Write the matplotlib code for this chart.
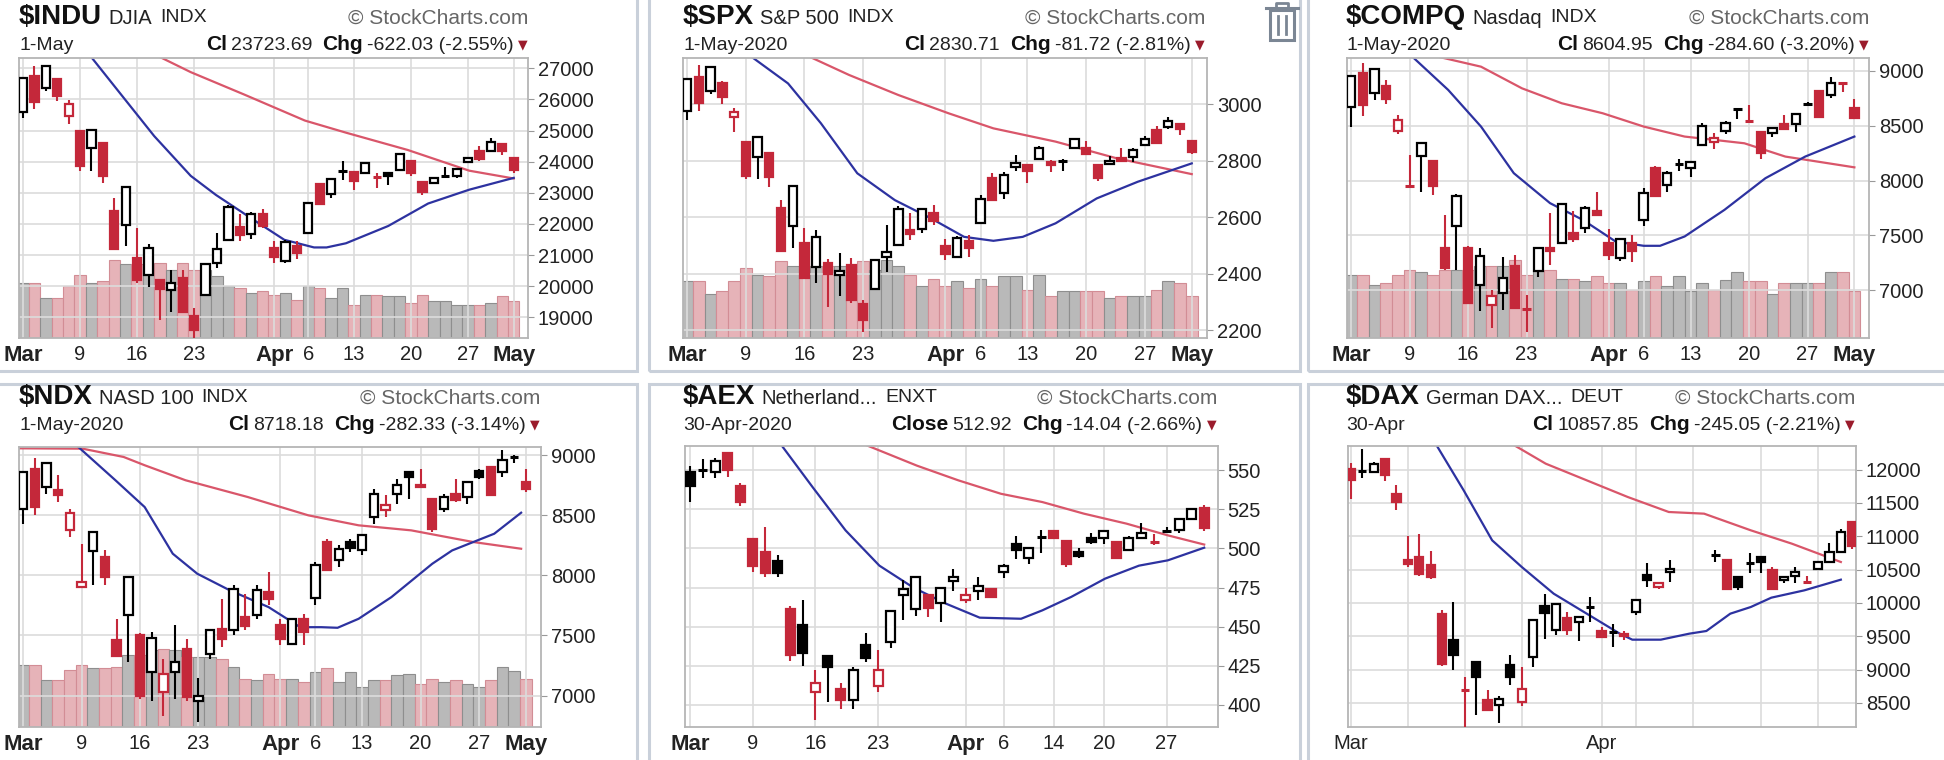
import matplotlib
matplotlib.use("Agg")
import matplotlib.pyplot as plt
import matplotlib.font_manager as fm
from matplotlib.patches import Rectangle
from matplotlib.lines import Line2D

_names = {f.name for f in fm.fontManager.ttflist}
NARROW = 'Liberation Sans Narrow' if 'Liberation Sans Narrow' in _names else 'Liberation Sans'
plt.rcParams['font.family'] = [NARROW, 'DejaVu Sans']

# ---------------- calendar ----------------
us_days = ['Mar 2','Mar 3','Mar 4','Mar 5','Mar 6','Mar 9','Mar 10','Mar 11','Mar 12','Mar 13',
           'Mar 16','Mar 17','Mar 18','Mar 19','Mar 20','Mar 23','Mar 24','Mar 25','Mar 26','Mar 27',
           'Mar 30','Mar 31','Apr 1','Apr 2','Apr 3','Apr 6','Apr 7','Apr 8','Apr 9',
           'Apr 13','Apr 14','Apr 15','Apr 16','Apr 17','Apr 20','Apr 21','Apr 22','Apr 23','Apr 24',
           'Apr 27','Apr 28','Apr 29','Apr 30','May 1']
dax_days = ['Mar 2','Mar 3','Mar 4','Mar 5','Mar 6','Mar 9','Mar 10','Mar 11','Mar 12','Mar 13',
            'Mar 16','Mar 17','Mar 18','Mar 19','Mar 20','Mar 23','Mar 24','Mar 25','Mar 26','Mar 27',
            'Mar 30','Mar 31','Apr 1','Apr 2','Apr 3','Apr 6','Apr 7','Apr 8','Apr 9',
            'Apr 14','Apr 15','Apr 16','Apr 17','Apr 20','Apr 21','Apr 22','Apr 23','Apr 24',
            'Apr 27','Apr 28','Apr 29','Apr 30']
dax_cal = us_days[:29] + ['Apr 10', 'Apr 13'] + us_days[29:]

# ---------------- $INDU ----------------
indu_open  = [25591,26762,26383,26671,25457,24992,24454,24604,22400,21973,20917,20343,20188,19868,20254,19029,19723,20729,21469,21899,21678,22312,21227,20819,21285,21694,23291,22957,23685,23664,23635,23515,23631,23723,24008,23343,23316,23541,23556,23983,24339,24334,24577,24120]
indu_high  = [26706,27084,27102,26671,25994,24992,25020,24604,22838,23186,21871,21350,20191,20533,20532,19300,20710,21712,22596,22327,22378,22480,21441,21477,21447,22697,23329,23458,24008,23664,23949,23651,23631,24264,24008,23343,23496,23822,23781,24164,24497,24764,24577,24120]
indu_low   = [25391,25706,26286,25943,25226,23706,23690,23328,21154,21286,20102,19974,18917,19177,19122,18214,19723,20578,21469,21450,21522,21875,20735,20736,20863,21694,22607,22829,23400,23100,23635,23156,23241,23723,23532,22941,23297,23487,23473,23983,24030,24334,24200,23647]
indu_close = [26703,25917,27091,26121,25865,23851,25018,23553,21200,23185,20189,21237,19899,20087,19174,18592,20704,21200,22552,21637,22327,21917,20943,21413,21053,22680,22654,23434,23719,23390,23950,23505,23538,24242,23650,23019,23475,23516,23775,24134,24102,24634,24346,23724]
indu_vol   = [165,165,120,120,155,190,165,170,235,222,222,205,225,205,225,205,205,185,155,150,135,140,130,135,115,155,150,120,150,100,130,130,125,125,105,130,110,110,100,100,100,105,125,110]
indu_ma20_at = [5.9,8.6,11.5,14.7,16.9,20.1,22.9,25.5,26.6,28.3,32,35.5,39.1,43]
indu_ma20    = [27400,26156,24822,23544,22933,22156,21489,21244,21244,21378,21933,22656,23100,23480]
indu_ma50_at = [11.8,14.7,19.4,24.7,28.3,33.7,39.1,43]
indu_ma50    = [27400,26878,26156,25322,24933,24378,23711,23460]

# ---------------- $SPX ----------------
spx_open  = [2974,3096,3045,3075,2954,2864,2813,2826,2631,2569,2509,2425,2436,2394,2432,2291,2345,2458,2501,2555,2558,2614,2499,2458,2514,2579,2738,2685,2776,2783,2805,2796,2800,2843,2846,2784,2787,2810,2813,2855,2909,2918,2930,2869]
spx_high  = [3090,3137,3130,3083,2985,2864,2883,2826,2660,2711,2563,2553,2453,2473,2454,2307,2450,2572,2638,2615,2631,2641,2522,2533,2538,2677,2757,2760,2819,2783,2852,2801,2806,2880,2868,2785,2816,2844,2843,2888,2921,2955,2930,2869]
spx_low   = [2945,2977,3034,2999,2901,2734,2734,2707,2478,2492,2381,2367,2281,2319,2295,2192,2345,2407,2500,2520,2545,2571,2448,2455,2459,2575,2657,2664,2762,2721,2805,2761,2764,2843,2820,2727,2785,2797,2795,2852,2860,2912,2892,2822]
spx_close = [3090,3003,3130,3024,2972,2747,2882,2741,2481,2711,2386,2529,2398,2409,2305,2237,2447,2476,2630,2541,2627,2585,2471,2527,2489,2664,2659,2750,2790,2762,2846,2783,2800,2875,2823,2737,2799,2798,2837,2878,2863,2939,2912,2831]
spx_vol   = [170,170,133,140,170,210,190,185,230,215,215,215,215,215,220,230,205,235,215,190,155,177,155,170,150,177,155,185,185,143,190,125,140,140,140,140,120,127,127,127,145,170,165,127]
spx_ma20_at = [5.4,8.6,11.4,14.5,17.7,20.8,23.6,26.1,28.6,31.4,34.9,38.4,43]
spx_ma20    = [3170,3073,2932,2755,2660,2595,2530,2516,2530,2578,2666,2725,2790]
spx_ma50_at = [10.3,13.8,18,22.3,26.1,31.4,36.6,43]
spx_ma50    = [3170,3103,3032,2967,2914,2867,2808,2752]

# ---------------- $COMPQ ----------------
compq_open  = [8667,8980,8800,8860,8450,7950,8225,8174,7385,7582,7385,7052,6870,6976,7218,6835,7173,7385,7430,7521,7567,7727,7430,7294,7430,7642,8112,7961,8150,8112,8324,8355,8455,8660,8540,8445,8430,8515,8515,8700,8818,8779,8887,8658]
compq_high  = [8952,9071,9019,8915,8600,8236,8344,8184,7688,7875,7400,7385,7000,7300,7324,6960,7385,7700,7800,7720,7770,7900,7560,7467,7500,7930,8130,8090,8200,8173,8520,8430,8540,8660,8690,8450,8490,8600,8603,8715,8818,8945,8900,8740]
compq_low   = [8490,8589,8730,8693,8420,7942,7897,7864,7188,7188,6885,6809,6657,6825,6830,6620,7120,7230,7420,7440,7520,7680,7280,7270,7260,7590,7850,7900,8090,8030,8324,8290,8420,8560,8536,8200,8400,8460,8440,8690,8570,8750,8810,8560]
compq_close = [8952,8684,9019,8738,8550,7950,8344,7953,7201,7855,6885,7309,6945,7112,6840,6830,7385,7355,7788,7467,7748,7688,7324,7467,7355,7891,7855,8073,8148,8173,8497,8385,8521,8645,8536,8248,8476,8470,8603,8697,8582,8885,8884,8567]
compq_vol   = [190,190,158,165,190,203,197,190,205,203,203,215,217,215,235,190,200,203,177,177,170,185,165,165,145,170,185,157,185,140,165,145,175,197,170,170,133,165,165,165,165,197,197,140]
compq_ma20_at = [5.2,8.3,11.1,13.9,17,19.8,22.6,25,26.4,28.5,31.9,35.4,38.8,43]
compq_ma20    = [9130,8824,8491,8067,7794,7642,7445,7406,7406,7491,7733,8021,8218,8400]
compq_ma50_at = [7.3,11.1,14.6,18,21.5,25,28.5,33.6,37.1,43]
compq_ma50    = [9130,9036,8839,8703,8612,8491,8400,8339,8218,8120]

# ---------------- $NDX ----------------
ndx_open  = [8556,8889,8736,8708,8381,7903,8203,8153,7464,7667,7500,7194,7028,7194,7389,6958,7347,7556,7547,7653,7667,7861,7583,7431,7639,7814,8278,8131,8278,8208,8486,8542,8681,8861,8750,8639,8556,8681,8653,8867,8903,8861,8981,8778]
ndx_high  = [8861,8978,8940,8833,8550,8264,8361,8208,7639,7986,7519,7528,7306,7583,7472,7147,7542,7806,7917,7847,7917,8028,7639,7639,7681,8111,8306,8250,8306,8333,8722,8667,8806,8861,8889,8639,8681,8806,8778,8889,8903,9042,9000,8889]
ndx_low   = [8431,8500,8680,8611,8319,7903,7917,7917,7333,7278,6972,6958,6833,6972,6958,6778,7306,7400,7500,7547,7639,7750,7417,7417,7417,7750,8042,8069,8194,8167,8431,8486,8597,8639,8736,8361,8528,8611,8597,8800,8667,8819,8939,8694]
ndx_close = [8861,8569,8936,8667,8519,7944,8361,7986,7333,7986,7000,7481,7181,7278,6986,7000,7542,7472,7889,7575,7881,7806,7472,7639,7528,8083,8042,8222,8225,8333,8681,8583,8750,8819,8736,8389,8653,8625,8778,8819,8667,8964,8983,8718]
ndx_vol   = [185,185,140,140,172,185,178,178,180,215,215,232,235,232,210,210,210,205,180,145,140,160,145,145,135,165,178,135,165,120,140,140,155,160,130,145,135,140,130,120,140,180,167,145]
ndx_ma20_at = [4.6,7.9,10.4,12.8,14.9,17.7,21,23.7,25.5,26.9,28.7,31.5,35,36.7,40.3,42.6]
ndx_ma20    = [9080,8792,8569,8181,8014,7875,7736,7569,7569,7564,7639,7819,8097,8208,8347,8522]
ndx_ma50_at = [-0.5,5.1,8.6,10.4,13.9,19.2,24.4,28.7,33.2,38.5,42.6]
ndx_ma50    = [9058,9055,8986,8917,8792,8653,8500,8417,8375,8278,8222]

# ---------------- $AEX ----------------
aex_open  = [549,550,549,561,540,506,498,492,461,451,408,431,410,403,438,412,440,470,461,470,465,479,467,473,474,485,503,494,507,511,505,498,507,507,504,499,507,504,511,512,519,526]
aex_high  = [553,557,558,561,542,506,514,496,463,467,422,431,414,424,446,435,460,480,482,470,475,487,475,482,474,490,508,500,512,511,505,500,510,511,505,508,516,509,514,519,525,528]
aex_low   = [530,545,545,546,527,485,482,482,428,425,390,402,397,397,427,408,436,454,457,456,453,473,465,467,468,481,493,490,497,506,488,494,503,503,494,499,506,502,510,510,519,511]
aex_close = [540,550,556,550,530,489,484,484,432,433,414,424,403,422,430,422,460,474,482,462,475,482,470,476,469,489,499,500,508,507,490,495,504,511,494,507,510,504,512,519,525,513]
aex_ma20_at = [7.3,9.8,12.4,15.1,17.8,20.4,23.1,26.4,28.1,30.4,33.1,35.8,38.1,41]
aex_ma20    = [566,539,511.6,489,475,464.7,455.7,455,460.4,469,480.7,489,492.4,500.5]
aex_ma50_at = [14.1,18.1,21.4,24.8,28.1,31.4,34.8,38.1,41]
aex_ma50    = [566,553,543.6,535,529.7,522.3,515.9,508.4,502.5]

# ---------------- $DAX ----------------
dax_open  = [12015,11985,11965,12165,11640,10640,10690,10565,9840,9440,8700,9115,8540,8465,9065,8515,9190,9950,9600,9780,9710,9950,9580,9565,9540,9865,10415,10240,10465,10720,10640,10390,10600,10690,10490,10340,10400,10315,10515,10615,10765,11215]
dax_high  = [12100,12310,12110,12165,11765,11000,11040,10780,9900,10015,8890,9115,8690,8600,9215,9040,9740,10140,9990,9865,9790,10090,9640,9690,9580,10040,10600,10305,10640,10790,10640,10390,10750,10690,10540,10400,10540,10400,10615,10900,11115,11215]
dax_low   = [11560,11870,11950,11830,11390,10540,10400,10365,9050,9000,8130,8320,8375,8200,8775,8450,9040,9465,9520,9525,9425,9715,9490,9340,9450,9815,10240,10215,10315,10620,10190,10200,10450,10450,10215,10300,10300,10300,10515,10615,10765,10815]
dax_close = [11840,11980,12090,11915,11515,10590,10440,10390,9090,9215,8700,8890,8390,8565,8890,8715,9740,9850,9990,9600,9790,9940,9490,9565,9500,10040,10340,10305,10515,10715,10215,10240,10600,10615,10215,10390,10465,10315,10615,10765,11065,10858]
dax_ma20_at = [7.4,9.9,12.4,15,17.8,20.7,23.6,24.7,27.2,29.7,31.2,33.3,35.1,36.9,39.8,43]
dax_ma20    = [12400,11690,10940,10540,10140,9840,9540,9450,9450,9540,9580,9840,9940,10080,10190,10350]
dax_ma50_at = [14,17.1,20.7,24.3,27.9,31,35.1,38.7,43]
dax_ma50    = [12400,12090,11840,11590,11365,11340,11090,10890,10615]

us_labels  = [('Mar','Mar 2',True),('9','Mar 9',False),('16','Mar 16',False),('23','Mar 23',False),
              ('Apr','Apr 1',True),('6','Apr 6',False),('13','Apr 13',False),('20','Apr 20',False),
              ('27','Apr 27',False),('May','May 1',True)]
aex_labels = [('Mar','Mar 2',True),('9','Mar 9',False),('16','Mar 16',False),('23','Mar 23',False),
              ('Apr','Apr 1',True),('6','Apr 6',False),('14','Apr 14',False),('20','Apr 20',False),
              ('27','Apr 27',False)]
dax_labels = [('Mar','Mar 2',False),('','Mar 9',False),('','Mar 16',False),('','Mar 23',False),
              ('Apr','Apr 1',False),('','Apr 6',False),('','Apr 13',False),('','Apr 20',False),('','Apr 27',False)]

RED = '#c4283a'
MA_BLUE = '#2d32a0'
MA_RED = '#d9566a'
GRID = '#dcdcdc'
W, H = 1944, 760
fig = plt.figure(figsize=(W/100, H/100), dpi=100)
fig.patch.set_facecolor('white')
renderer = fig.canvas.get_renderer()

def fx(x): return x / W
def fy(y): return 1 - y / H

for (x0, y0, x1, y1) in [(-10, -10, 637, 371), (649, -10, 1300, 371), (1308, -10, 1960, 371),
                         (-10, 384, 637, 770), (649, 384, 1300, 770), (1308, 384, 1960, 770)]:
    fig.patches.append(Rectangle((fx(x0), fy(y1)), fx(x1 - x0), (y1 - y0) / H,
                                 transform=fig.transFigure, fill=False, ec='#c9d0da', lw=2.2))

def panel(box, pos, o, h, l, c, prev, vol, ma20_at, ma20, ma50_at, ma50, ylim, yticks,
          labels, cal, xlim):
    left, right, top, bottom = box
    ax = fig.add_axes([fx(left), fy(bottom), fx(right - left), (bottom - top) / H])
    n = len(c)
    if vol is not None:
        ax2 = ax.twinx()
        ax2.set_ylim(0, 840)
        vcols = []
        for i in range(n):
            pc = prev if i == 0 else c[i - 1]
            vcols.append(('#e6b3b8', '#d28d95') if c[i] < pc else ('#b9b9b9', '#8e8e8e'))
        ax2.bar(pos, vol, width=1.0, color=[v[0] for v in vcols],
                edgecolor=[v[1] for v in vcols], linewidth=0.8, zorder=1)
        ax2.set_yticks([])
        for s in ax2.spines.values():
            s.set_visible(False)
        ax.set_zorder(ax2.get_zorder() + 1)
        ax.patch.set_visible(False)
    for t in yticks:
        ax.axhline(t, color=GRID, lw=1.2, zorder=0)
    tick_pos = [cal.index(d) for (_, d, _) in labels]
    for p in tick_pos:
        ax.axvline(p, color=GRID, lw=1.2, zorder=0)
    ax.plot(ma50_at, ma50, color=MA_RED, lw=1.6, zorder=2)
    ax.plot(ma20_at, ma20, color=MA_BLUE, lw=1.6, zorder=2)
    bw = 0.72
    span = ylim[1] - ylim[0]
    for i in range(n):
        x = pos[i]
        pc = prev if i == 0 else c[i - 1]
        col = RED if c[i] < pc else 'black'
        ax.vlines(x, l[i], h[i], color=col, lw=1.5, zorder=3)
        lo, hi = min(o[i], c[i]), max(o[i], c[i])
        if hi - lo < span * 0.006:
            ax.hlines((o[i] + c[i]) / 2, x - bw / 2, x + bw / 2, color=col, lw=2.2, zorder=4)
            continue
        hollow = c[i] > o[i]
        ax.add_patch(Rectangle((x - bw / 2, lo), bw, hi - lo,
                               facecolor='white' if hollow else col, edgecolor=col,
                               lw=1.6, zorder=4))
    ax.set_xlim(*xlim)
    ax.set_ylim(*ylim)
    ax.yaxis.tick_right()
    ax.set_yticks(yticks)
    ax.set_yticklabels([str(t) for t in yticks], fontsize=14.5, color='#222')
    ax.tick_params(axis='y', length=4, color='#999', pad=3)
    ax.set_xticks(tick_pos)
    ax.set_xticklabels([t for (t, _, _) in labels], fontsize=14.5, color='#222')
    for tl, (_, _, b) in zip(ax.get_xticklabels(), labels):
        if b:
            tl.set_fontweight('bold')
            tl.set_fontsize(16)
    ax.tick_params(axis='x', length=0, pad=5)
    for s in ax.spines.values():
        s.set_color('#b5b5b5')
        s.set_linewidth(1.3)
    return ax

def put(x, y, t, s, w, col, ha='left', family=None):
    kw = {}
    if family:
        kw['family'] = family
    tx = fig.text(fx(x), fy(y), t, fontsize=s, fontweight=w, color=col, ha=ha, va='center', **kw)
    bb = tx.get_window_extent(renderer)
    return tx, bb.x0, bb.x1

def std_header(row_top, x_sym, sym, name, exch, right, date, cl_lab, clv, chgv):
    ty, sy = row_top + 17, row_top + 45
    _, _, e = put(x_sym, ty, sym, 20, 'bold', '#111')
    _, _, e = put(e + 6, ty + 1, name, 14.5, 'normal', '#222')
    put(e + 8, ty + 1, exch, 14, 'normal', '#222')
    put(right, ty + 1, '© StockCharts.com', 15, 'normal', '#666', ha='right')
    put(x_sym, sy, date, 14, 'normal', '#222')
    # right-aligned second line built from the right
    _, s, _ = put(right, sy, '▼', 9, 'normal', '#9b1c2c', ha='right', family='DejaVu Sans')
    _, s, _ = put(s - 5, sy, chgv, 14, 'normal', '#222', ha='right')
    _, s, _ = put(s - 4, sy, 'Chg', 15, 'bold', '#111', ha='right')
    _, s, _ = put(s - 10, sy, clv, 14, 'normal', '#222', ha='right')
    put(s - 4, sy, cl_lab, 15, 'bold', '#111', ha='right')

us_pos = list(range(44))
dax_pos = [dax_cal.index(d) for d in dax_days]

panel((19, 528, 58, 338), us_pos, indu_open, indu_high, indu_low, indu_close, 25409, indu_vol,
      indu_ma20_at, indu_ma20, indu_ma50_at, indu_ma50, (18333, 27333),
      list(range(19000, 27001, 1000)), us_labels, us_days, (-0.35, 44.25))
std_header(0, 19, '$INDU', 'DJIA', 'INDX', 528, '1-May', 'Cl', '23723.69', '-622.03 (-2.55%)')

panel((683, 1207, 58, 338), us_pos, spx_open, spx_high, spx_low, spx_close, 2954, spx_vol,
      spx_ma20_at, spx_ma20, spx_ma50_at, spx_ma50, (2172, 3163),
      list(range(2200, 3001, 200)), us_labels, us_days, (-0.35, 44.3))
std_header(0, 683, '$SPX', 'S&P 500', 'INDX', 1205, '1-May-2020', 'Cl', '2830.71', '-81.72 (-2.81%)')

panel((1347, 1869, 58, 338), us_pos, compq_open, compq_high, compq_low, compq_close, 8567,
      compq_vol, compq_ma20_at, compq_ma20, compq_ma50_at, compq_ma50, (6567, 9115),
      list(range(7000, 9001, 500)), us_labels, us_days, (-0.35, 44.25))
std_header(0, 1346, '$COMPQ', 'Nasdaq', 'INDX', 1869, '1-May-2020', 'Cl', '8604.95', '-284.60 (-3.20%)')

panel((19, 541, 447, 727), us_pos, ndx_open, ndx_high, ndx_low, ndx_close, 8462, ndx_vol,
      ndx_ma20_at, ndx_ma20, ndx_ma50_at, ndx_ma50, (6738, 9069),
      list(range(7000, 9001, 500)), us_labels, us_days, (-0.35, 44.3))
std_header(380, 19, '$NDX', 'NASD 100', 'INDX', 540, '1-May-2020', 'Cl', '8718.18', '-282.33 (-3.14%)')

panel((685, 1218, 446, 727), list(range(42)), aex_open, aex_high, aex_low, aex_close, 535, None,
      aex_ma20_at, aex_ma20, aex_ma50_at, aex_ma50, (385.7, 565.6),
      list(range(400, 551, 25)), aex_labels, dax_days, (-0.4, 42.1))
std_header(380, 683, '$AEX', 'Netherland...', 'ENXT', 1217, '30-Apr-2020', 'Close', '512.92', '-14.04 (-2.66%)')

panel((1348, 1856, 446, 727), dax_pos, dax_open, dax_high, dax_low, dax_close, 11890, None,
      dax_ma20_at, dax_ma20, dax_ma50_at, dax_ma50, (8140, 12355),
      list(range(8500, 12001, 500)), dax_labels, dax_cal, (-0.25, 44.33))
std_header(380, 1346, '$DAX', 'German DAX...', 'DEUT', 1855, '30-Apr', 'Cl', '10857.85', '-245.05 (-2.21%)')

# trash icon near SPX header
ic = '#7b8694'
fig.lines.append(Line2D([fx(1266), fx(1298)], [fy(8), fy(8)], transform=fig.transFigure, color=ic, lw=2.2))
fig.lines.append(Line2D([fx(1276), fx(1276), fx(1288), fx(1288)], [fy(8), fy(3), fy(3), fy(8)],
                        transform=fig.transFigure, color=ic, lw=2))
fig.patches.append(Rectangle((fx(1270), fy(40)), fx(24), 30 / H, transform=fig.transFigure,
                             fill=False, ec=ic, lw=2.2))
for xx in (1278, 1286):
    fig.lines.append(Line2D([fx(xx), fx(xx)], [fy(16), fy(34)], transform=fig.transFigure, color=ic, lw=2))

fig.savefig('out.png', dpi=100, facecolor='white')
